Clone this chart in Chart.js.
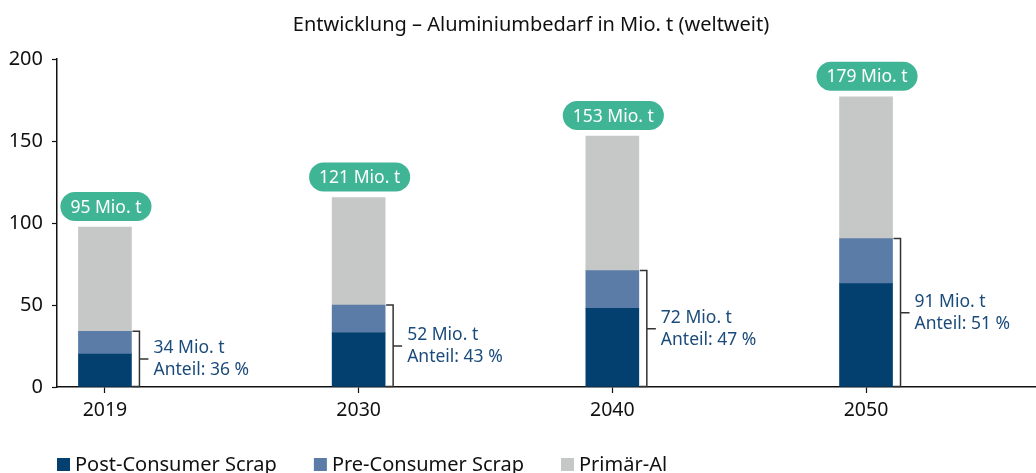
<!DOCTYPE html>
<html lang="de">
<head>
<meta charset="utf-8">
<script src="https://cdn.jsdelivr.net/npm/chart.js@4/dist/chart.umd.min.js"></script>
<style>
  html, body { margin: 0; padding: 0; background: #fff; }
  canvas { display: block; }
</style>
</head>
<body>
<canvas id="aluChart" width="1036" height="473"></canvas>
<script>
const categories = ['2019', '2030', '2040', '2050'];
const postConsumer = [20, 33, 48, 63];
const preConsumer = [14, 17, 23, 27.5];
const primaryAl = [63.5, 65.5, 82, 86.5];
const totalLabels = ['95 Mio. t', '121 Mio. t', '153 Mio. t', '179 Mio. t'];
const recycledLabels = ['34 Mio. t', '52 Mio. t', '72 Mio. t', '91 Mio. t'];
const shareLabels = ['Anteil: 36 %', 'Anteil: 43 %', 'Anteil: 47 %', 'Anteil: 51 %'];
const yTickValues = [0, 50, 100, 150, 200];
const seriesNames = ['Post-Consumer Scrap', 'Pre-Consumer Scrap', 'Primär-Al'];
const seriesColors = ['#03406f', '#5a7ca6', '#c6c7c7'];
const chartTitle = 'Entwicklung – Aluminiumbedarf in Mio. t (weltweit)';

const FONT = '"Noto Sans", "Open Sans", sans-serif';
const TEXT_BLUE = '#1b4b7b';
const BADGE_GREEN = '#40b596';

Chart.defaults.font.family = FONT;
Chart.defaults.color = '#111';

const toPoints = (values) => values.map((v, i) => ({ x: i, y: v }));

const annotations = {
  id: 'annotations',
  afterDatasetsDraw(chart) {
    const { ctx } = chart;
    const yScale = chart.scales.y;
    const y0 = yScale.getPixelForValue(0);
    const recycledMeta = chart.getDatasetMeta(1);
    const topMeta = chart.getDatasetMeta(2);

    ctx.save();
    categories.forEach((_, i) => {
      const topBar = topMeta.data[i];
      const recBar = recycledMeta.data[i];

      // total badge
      ctx.font = `17.5px ${FONT}`;
      const tw = ctx.measureText(totalLabels[i]).width;
      const bw = tw + 20;
      const bh = 29;
      const bx = topBar.x + 1 - bw / 2;
      const by = topBar.y - 6 - bh;
      ctx.fillStyle = BADGE_GREEN;
      ctx.beginPath();
      ctx.roundRect(bx, by, bw, bh, bh / 2);
      ctx.fill();
      ctx.fillStyle = '#fff';
      ctx.textAlign = 'center';
      ctx.textBaseline = 'middle';
      ctx.fillText(totalLabels[i], bx + bw / 2, by + bh / 2 + 1);

      // bracket for recycled share
      const xr = recBar.x + recBar.width / 2;
      const xv = xr + 8;
      const yTop = recBar.y;
      const ym = (yTop + y0) / 2;
      ctx.strokeStyle = '#333';
      ctx.lineWidth = 1.5;
      ctx.beginPath();
      ctx.moveTo(xr + 1, yTop);
      ctx.lineTo(xv, yTop);
      ctx.lineTo(xv, y0 - 0.5);
      ctx.lineTo(xr + 1, y0 - 0.5);
      ctx.moveTo(xv, ym);
      ctx.lineTo(xv + 9, ym);
      ctx.stroke();

      ctx.fillStyle = TEXT_BLUE;
      ctx.textAlign = 'left';
      ctx.textBaseline = 'middle';
      ctx.fillText(recycledLabels[i], xv + 14, ym - 11);
      ctx.fillText(shareLabels[i], xv + 14, ym + 11);
    });
    ctx.restore();
  },
  afterDraw(chart) {
    const { ctx, chartArea } = chart;
    ctx.save();

    // title
    ctx.font = `20px ${FONT}`;
    ctx.fillStyle = '#111';
    ctx.textAlign = 'center';
    ctx.textBaseline = 'middle';
    ctx.fillText(chartTitle, 531, 25);

    // legend
    let x = chartArea.left;
    const ly = 465;
    ctx.font = `20px ${FONT}`;
    ctx.textAlign = 'left';
    seriesNames.forEach((name, i) => {
      ctx.fillStyle = seriesColors[i];
      ctx.fillRect(x, ly - 7, 13, 13);
      ctx.fillStyle = '#111';
      ctx.fillText(name, x + 18, ly);
      x += 18 + ctx.measureText(name).width + 37;
    });
    ctx.restore();
  }
};

const datasetValues = [postConsumer, preConsumer, primaryAl];

new Chart(document.getElementById('aluChart'), {
  type: 'bar',
  data: {
    datasets: datasetValues.map((values, i) => ({
      label: seriesNames[i],
      data: toPoints(values),
      backgroundColor: seriesColors[i],
      borderWidth: 0,
      barThickness: 53,
      stack: 'total'
    }))
  },
  options: {
    responsive: false,
    animation: false,
    layout: { padding: { top: 59, right: 0, left: 0, bottom: 0 } },
    plugins: {
      legend: { display: false },
      title: { display: false },
      tooltip: { enabled: false }
    },
    scales: {
      x: {
        type: 'linear',
        stacked: true,
        offset: false,
        min: -0.189,
        max: 3.67,
        afterBuildTicks(scale) {
          scale.ticks = categories.map((_, i) => ({ value: i }));
        },
        afterFit(scale) {
          scale.height = 86;
        },
        ticks: {
          autoSkip: false,
          maxRotation: 0,
          padding: 6,
          color: '#111',
          font: { size: 19.5 },
          callback(value) {
            return categories[value];
          }
        },
        grid: {
          offset: false,
          drawOnChartArea: false,
          drawTicks: true,
          tickLength: 6,
          tickWidth: 1.2,
          color: '#111'
        },
        border: { color: '#111', width: 1.5 }
      },
      y: {
        stacked: true,
        min: 0,
        max: 200,
        afterBuildTicks(scale) {
          scale.ticks = yTickValues.map((v) => ({ value: v }));
        },
        afterFit(scale) {
          scale.width = 57;
        },
        ticks: {
          padding: 9,
          color: '#111',
          font: { size: 20 }
        },
        grid: {
          drawOnChartArea: false,
          drawTicks: true,
          tickLength: 5,
          tickWidth: 1.2,
          color: '#111'
        },
        border: { color: '#111', width: 1.5 }
      }
    }
  },
  plugins: [annotations]
});
</script>
</body>
</html>
